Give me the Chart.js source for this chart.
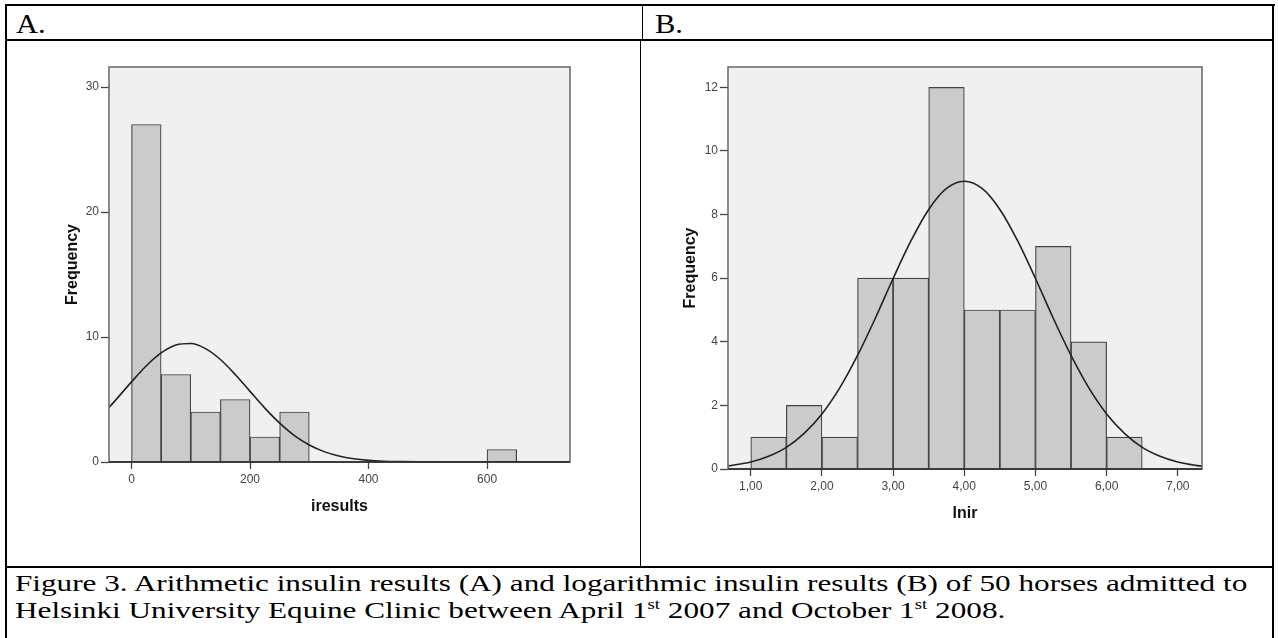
<!DOCTYPE html>
<html>
<head>
<meta charset="utf-8">
<script src="https://cdn.jsdelivr.net/npm/chart.js@4.4.0/dist/chart.umd.min.js"></script>
<style>
  body { margin: 0; width: 1278px; height: 638px; overflow: hidden; position: relative; background: #fff;
         font-family: "Liberation Serif", "Times New Roman", serif; color: #000; }
  .rule { position: absolute; background: #000; }
  .head { position: absolute; top: 9px; font-size: 27px; line-height: 30px; transform: scaleX(1.13); transform-origin: left top; }
  .cap { position: absolute; left: 15px; font-size: 24px; line-height: 27px; white-space: nowrap; transform: scaleX(1.3); transform-origin: left top; }
  .cap span { font-size: 0.6em; position: relative; top: -0.65em; }
  canvas { position: absolute; }
</style>
</head>
<body>
<div class="rule" style="left:5px; top:4px; width:1270px; height:2px"></div>
<div class="rule" style="left:5px; top:4px; width:2px; height:634px"></div>
<div class="rule" style="left:1272px; top:4px; width:2px; height:634px"></div>
<div class="rule" style="left:5px; top:39px; width:1269px; height:2px"></div>
<div class="rule" style="left:642px; top:4px; width:1px; height:37px"></div>
<div class="rule" style="left:640px; top:41px; width:1px; height:526px"></div>
<div class="rule" style="left:5px; top:566px; width:1269px; height:2px"></div>

<div class="head" style="left:16px">A.</div>
<div class="head" style="left:655px">B.</div>

<canvas id="chartA" width="633" height="524" style="left:7px; top:42px"></canvas>
<canvas id="chartB" width="629" height="524" style="left:642px; top:42px"></canvas>

<div class="cap" style="top:570px">Figure 3. Arithmetic insulin results (A) and logarithmic insulin results (B) of 50 horses admitted to</div>
<div class="cap" style="top:597px">Helsinki University Equine Clinic between April 1<span>st</span> 2007 and October 1<span>st</span> 2008.</div>

<script>
// A: arithmetic insulin results, bins of 50
const binsA = [25, 75, 125, 175, 225, 275, 625];
const countsA = [27, 7, 4, 5, 2, 4, 1];
const curveXA = [-38, -25, 0, 25, 50, 75, 100, 125, 150, 175, 200, 225, 250, 275, 300, 325, 350, 375, 400, 425, 450, 500, 550, 600, 650, 740];
const curveYA = [4.36, 5.05, 6.41, 7.70, 8.73, 9.36, 9.48, 9.07, 8.20, 7.00, 5.65, 4.31, 3.11, 2.11, 1.36, 0.83, 0.48, 0.26, 0.13, 0.06, 0.03, 0.01, 0, 0, 0, 0];
const xTicksA = [0, 200, 400, 600];
const yTicksA = [0, 10, 20, 30];

// B: log insulin results, bins of 0.5
const binsB = [1.25, 1.75, 2.25, 2.75, 3.25, 3.75, 4.25, 4.75, 5.25, 5.75, 6.25];
const countsB = [1, 2, 1, 6, 6, 12, 5, 5, 7, 4, 1];
const curveXB = [0.68, 1.0, 1.25, 1.5, 1.75, 2.0, 2.25, 2.5, 2.75, 3.0, 3.25, 3.5, 3.75, 4.0, 4.25, 4.5, 4.75, 5.0, 5.25, 5.5, 5.75, 6.0, 6.25, 6.5, 6.75, 7.0, 7.25, 7.34];
const curveYB = [0.095, 0.22, 0.40, 0.68, 1.12, 1.73, 2.55, 3.57, 4.74, 5.99, 7.17, 8.16, 8.82, 9.05, 8.82, 8.16, 7.17, 5.99, 4.74, 3.57, 2.55, 1.73, 1.12, 0.68, 0.40, 0.22, 0.115, 0.09];
const xTicksB = [1, 2, 3, 4, 5, 6, 7];
const xLabelsB = ['1,00', '2,00', '3,00', '4,00', '5,00', '6,00', '7,00'];
const yTicksB = [0, 2, 4, 6, 8, 10, 12];

const sansFont = '"Liberation Sans", Arial, sans-serif';

const plotFrame = {
    id: 'plotFrame',
    beforeDraw(chart) {
        const {ctx, chartArea: a} = chart;
        ctx.save();
        ctx.fillStyle = '#f0f0f0';
        ctx.fillRect(a.left, a.top, a.width, a.height);
        ctx.restore();
    },
    afterDraw(chart) {
        const {ctx, chartArea: a} = chart;
        ctx.save();
        ctx.strokeStyle = '#666';
        ctx.lineWidth = 1.5;
        ctx.strokeRect(a.left, a.top, a.width, a.height);
        ctx.strokeStyle = '#222';
        ctx.beginPath();
        ctx.moveTo(a.left, a.bottom);
        ctx.lineTo(a.right, a.bottom);
        ctx.stroke();
        ctx.restore();
    }
};

function histogram(id, cfg) {
    new Chart(document.getElementById(id), {
        type: 'bar',
        data: {
            datasets: [{
                type: 'line',
                data: cfg.curveX.map((x, i) => ({x: x, y: cfg.curveY[i]})),
                borderColor: '#222',
                borderWidth: 1.6,
                pointRadius: 0,
                cubicInterpolationMode: 'monotone',
                order: 1
            }, {
                type: 'bar',
                data: cfg.bins.map((x, i) => ({x: x, y: cfg.counts[i]})),
                backgroundColor: '#cbcbcb',
                borderColor: '#444',
                borderWidth: 1.2,
                barPercentage: 1,
                categoryPercentage: 1,
                order: 2
            }]
        },
        options: {
            responsive: false,
            animation: false,
            devicePixelRatio: 1,
            layout: { padding: { top: 25, right: cfg.padRight, left: 0, bottom: 0 } },
            plugins: { legend: { display: false }, tooltip: { enabled: false } },
            scales: {
                x: {
                    type: 'linear',
                    min: cfg.xMin,
                    max: cfg.xMax,
                    offset: false,
                    grid: { offset: false, drawOnChartArea: false, drawTicks: true, tickLength: 7, tickColor: '#444', tickWidth: 1.3 },
                    border: { display: false },
                    afterBuildTicks: s => { s.ticks = cfg.xTicks.map(v => ({value: v})); },
                    afterFit: s => { s.height = cfg.xAxisHeight; },
                    ticks: {
                        color: '#444',
                        padding: 3,
                        maxRotation: 0,
                        autoSkip: false,
                        font: { family: sansFont, size: 12 },
                        callback: v => cfg.xLabels ? cfg.xLabels[cfg.xTicks.indexOf(v)] : String(v)
                    },
                    title: {
                        display: true,
                        text: cfg.xTitle,
                        color: '#111',
                        font: { family: sansFont, size: 16, weight: 'bold' },
                        padding: { top: 0, bottom: cfg.xTitlePad }
                    }
                },
                y: {
                    min: 0,
                    max: cfg.yMax,
                    grid: { drawOnChartArea: false, drawTicks: true, tickLength: 8, tickColor: '#444', tickWidth: 1.3 },
                    border: { display: false },
                    afterBuildTicks: s => { s.ticks = cfg.yTicks.map(v => ({value: v})); },
                    afterFit: s => { s.width = cfg.yAxisWidth; },
                    ticks: {
                        color: '#444',
                        padding: 2,
                        font: { family: sansFont, size: 12 }
                    },
                    title: {
                        display: true,
                        text: 'Frequency',
                        color: '#111',
                        font: { family: sansFont, size: 16, weight: 'bold' },
                        padding: { top: cfg.yTitlePad, bottom: 0 }
                    }
                }
            }
        },
        plugins: [plotFrame]
    });
}

histogram('chartA', {
    bins: binsA, counts: countsA, curveX: curveXA, curveY: curveYA,
    xTicks: xTicksA, yTicks: yTicksA, xTitle: 'iresults',
    xMin: -38, xMax: 740, yMax: 31.6,
    padRight: 70, yAxisWidth: 102, xAxisHeight: 104,
    yTitlePad: 56, xTitlePad: 50
});

histogram('chartB', {
    bins: binsB, counts: countsB, curveX: curveXB, curveY: curveYB,
    xTicks: xTicksB, xLabels: xLabelsB, yTicks: yTicksB, xTitle: 'lnir',
    xMin: 0.68, xMax: 7.34, yMax: 12.64,
    padRight: 69, yAxisWidth: 86, xAxisHeight: 97,
    yTitlePad: 39, xTitlePad: 43
});
</script>
</body>
</html>
